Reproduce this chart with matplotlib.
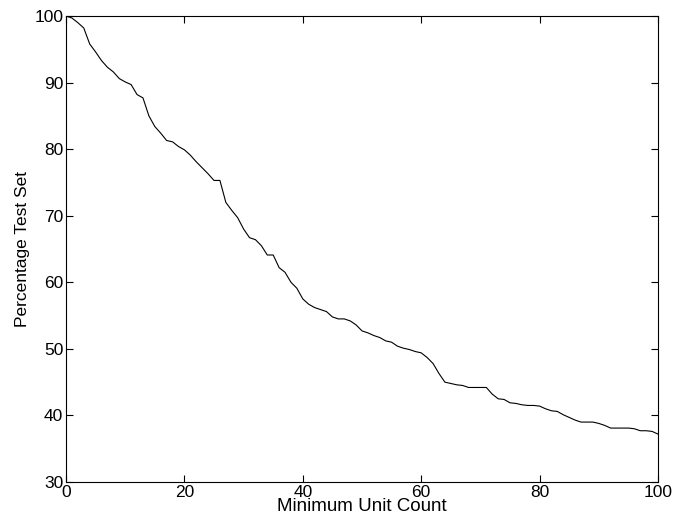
import numpy as np
import matplotlib.pyplot as plt

plt.rcParams['font.family'] = ['Liberation Sans', 'DejaVu Sans']

# minimum unit count (x) and percentage of test set covered (y)
unit_count = np.arange(0, 101)
pct_test = [100.0, 99.7, 99.0, 98.2, 95.8, 94.6, 93.3, 92.3, 91.6, 90.6,
            90.1, 89.7, 88.2, 87.7, 85.0, 83.4, 82.4, 81.3, 81.1, 80.4,
            79.9, 79.1, 78.1, 77.2, 76.3, 75.3, 75.3, 72.0, 70.8, 69.7,
            68.0, 66.7, 66.4, 65.5, 64.1, 64.1, 62.2, 61.5, 60.0, 59.1,
            57.5, 56.7, 56.2, 55.9, 55.6, 54.8, 54.5, 54.5, 54.2, 53.6,
            52.7, 52.4, 52.0, 51.7, 51.2, 51.0, 50.4, 50.1, 49.9, 49.6,
            49.4, 48.7, 47.8, 46.3, 45.0, 44.8, 44.6, 44.5, 44.2, 44.2,
            44.2, 44.2, 43.2, 42.5, 42.4, 41.9, 41.8, 41.6, 41.5, 41.5,
            41.4, 41.0, 40.7, 40.6, 40.1, 39.7, 39.3, 39.0, 39.0, 39.0,
            38.8, 38.5, 38.1, 38.1, 38.1, 38.1, 38.0, 37.7, 37.7, 37.6,
            37.2]

fig = plt.figure(figsize=(6.75, 5.27), dpi=100)
ax = fig.add_axes([0.0978, 0.0854, 0.877, 0.8842])
ax.plot(unit_count, pct_test, 'k-', linewidth=0.8)

ax.set_xlim([0, 100])
ax.set_ylim([30, 100])
ax.set_xticks([0, 20, 40, 60, 80, 100])
ax.set_yticks([30, 40, 50, 60, 70, 80, 90, 100])
ax.tick_params(direction='in', top=True, right=True, length=5, width=0.8,
               labelsize=12.5, pad=2)
for s in ax.spines.values():
    s.set_linewidth(0.8)

ax.set_xlabel('Minimum Unit Count', fontsize=13.5, labelpad=-1)
ax.set_ylabel('Percentage Test Set', fontsize=12.5, labelpad=3)

plt.savefig("out.png")
